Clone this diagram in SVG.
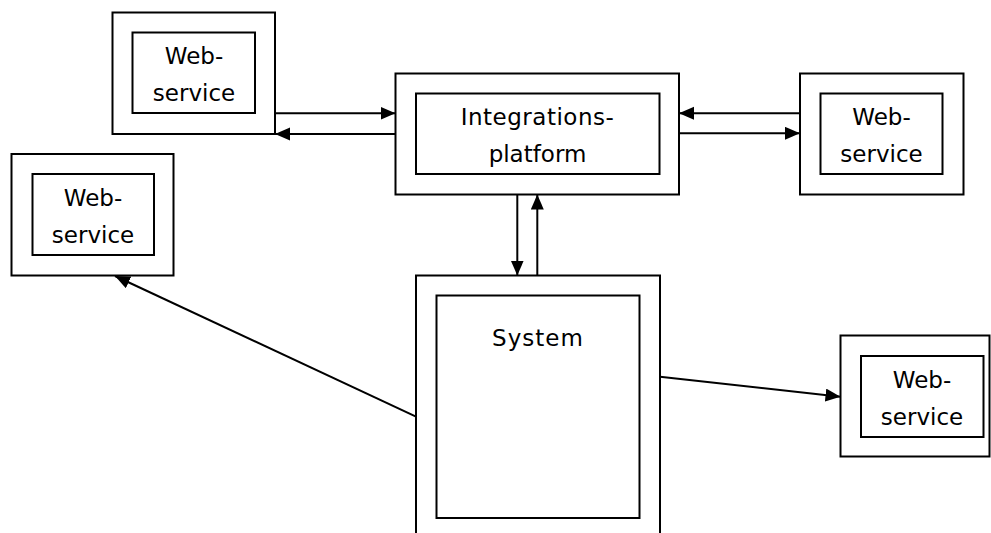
<svg xmlns="http://www.w3.org/2000/svg" width="991" height="533" viewBox="0 0 991 533">
<style>
.box{fill:#fff;stroke:#000;stroke-width:2}
.t{font-family:"DejaVu Sans",Verdana,sans-serif;font-size:23px;fill:#000;text-anchor:middle}
.c{fill:none;stroke:#000;stroke-width:2;marker-end:url(#ah)}
</style>
<defs>
<marker id="ah" markerUnits="userSpaceOnUse" markerWidth="16" markerHeight="14" refX="15" refY="6.5" orient="auto">
<path d="M0,0 L15,6.5 L0,13 z" fill="#000"/>
</marker>
</defs>
<rect width="991" height="533" fill="#fff"/>
<g id="ws-topleft">
<rect class="box" x="112.5" y="12.5" width="162.5" height="121.5"/>
<rect class="box" x="132.5" y="32.5" width="122.5" height="80.5"/>
<text class="t" x="194" y="64">Web-</text>
<text class="t" x="194" y="101">service</text>
</g>
<g id="integrations">
<rect class="box" x="395.5" y="73.5" width="283.5" height="121"/>
<rect class="box" x="416" y="93.5" width="243.5" height="80.5"/>
<text class="t" x="537.5" y="125" letter-spacing="0.5">Integrations-</text>
<text class="t" x="537.5" y="162">platform</text>
</g>
<g id="ws-right">
<rect class="box" x="800" y="73.5" width="163.5" height="121"/>
<rect class="box" x="820.5" y="93.5" width="122" height="80.5"/>
<text class="t" x="881.5" y="125">Web-</text>
<text class="t" x="881.5" y="162">service</text>
</g>
<g id="ws-left">
<rect class="box" x="11.5" y="154" width="162" height="121.5"/>
<rect class="box" x="32.5" y="174" width="121.5" height="81"/>
<text class="t" x="93" y="205.5">Web-</text>
<text class="t" x="93" y="242.5">service</text>
</g>
<g id="system">
<rect class="box" x="416" y="275.5" width="244" height="270"/>
<rect class="box" x="436.5" y="295.5" width="203" height="222.5"/>
<text class="t" x="538" y="346" letter-spacing="1">System</text>
</g>
<g id="ws-bottomright">
<rect class="box" x="840.5" y="335.5" width="149" height="121"/>
<rect class="box" x="861" y="356" width="122.5" height="81"/>
<text class="t" x="922" y="387.5">Web-</text>
<text class="t" x="922" y="424.5">service</text>
</g>
<g id="connectors">
<line class="c" x1="275" y1="113.3" x2="395.5" y2="113.3"/>
<line class="c" x1="395.5" y1="134" x2="275" y2="134"/>
<line class="c" x1="800" y1="113.3" x2="679" y2="113.3"/>
<line class="c" x1="679" y1="133.3" x2="800" y2="133.3"/>
<line class="c" x1="517.3" y1="194.5" x2="517.3" y2="275.5"/>
<line class="c" x1="537.3" y1="275.5" x2="537.3" y2="194.5"/>
<line class="c" x1="416" y1="416.7" x2="115" y2="276"/>
<line class="c" x1="660" y1="376.7" x2="840.5" y2="396.7"/>
</g>
</svg>
